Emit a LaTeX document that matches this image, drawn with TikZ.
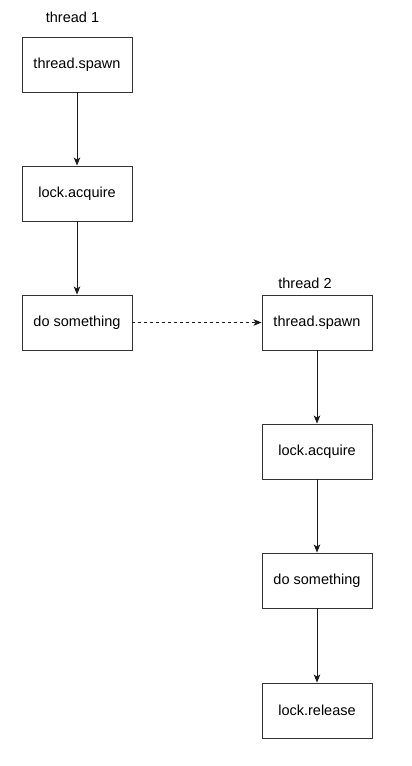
\documentclass[tikz,border=0pt]{standalone}
\usepackage{fontspec}
\setmainfont{Liberation Sans}
\usetikzlibrary{arrows.meta}
\begin{document}
\begin{tikzpicture}[x=1pt,y=-1pt,
  box/.style={draw=black!80,line width=0.9pt,minimum width=110pt,minimum height=55pt,inner sep=0pt,font=\fontsize{14.5}{17}\selectfont,fill=white},
  lbl/.style={font=\fontsize{14.5}{17}\selectfont,inner sep=0pt},
  arr/.style={draw=black!90,line width=0.9pt,-{Stealth[length=8pt,width=6.5pt,inset=2pt]}}]
\useasboundingbox (0,0) rectangle (412,766);
\node[lbl] (t1) at (72.5,17) {thread 1};
\node[box] (a1) at (77,64.5) {thread.spawn};
\node[box] (a2) at (77,193.5) {lock.acquire};
\node[box] (a3) at (77,322.5) {do something};
\node[lbl] (t2) at (305,283) {thread 2};
\node[box] (b1) at (317,322.5) {thread.spawn};
\node[box] (b2) at (317,451.5) {lock.acquire};
\node[box] (b3) at (317,580.5) {do something};
\node[box] (b4) at (317,710.5) {lock.release};
\draw[arr] (a1) -- (a2);
\draw[arr] (a2) -- (a3);
\draw[arr,dashed,dash pattern=on 3pt off 3pt] (a3) -- (b1);
\draw[arr] (b1) -- (b2);
\draw[arr] (b2) -- (b3);
\draw[arr] (b3) -- (b4);
\end{tikzpicture}
\end{document}
